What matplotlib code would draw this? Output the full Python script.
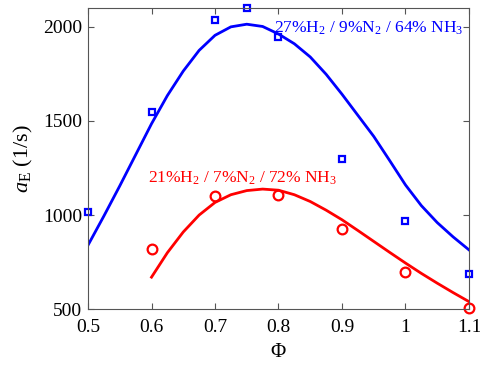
import numpy as np
import matplotlib.pyplot as plt

plt.rcParams['font.family'] = ['Liberation Serif', 'DejaVu Serif']
plt.rcParams['mathtext.fontset'] = 'custom'
plt.rcParams['mathtext.rm'] = 'Liberation Serif'
plt.rcParams['mathtext.it'] = 'Liberation Serif:italic'

# measured stretch rates
phi_hi = [0.5, 0.6, 0.7, 0.75, 0.8, 0.9, 1.0, 1.1]
ae_hi = [1018, 1548, 2035, 2098, 1947, 1298, 968, 686]

phi_lo = [0.6, 0.7, 0.8, 0.9, 1.0, 1.1]
ae_lo = [819, 1101, 1106, 925, 697, 507]

# fitted curves
phi_fit_hi = [0.5, 0.525, 0.55, 0.575, 0.6, 0.625, 0.65, 0.675, 0.7, 0.725,
              0.75, 0.775, 0.8, 0.825, 0.85, 0.875, 0.9, 0.925, 0.95, 0.975,
              1.0, 1.025, 1.05, 1.075, 1.1]
ae_fit_hi = [840, 995, 1155, 1320, 1485, 1635, 1765, 1875, 1955, 2000,
             2014, 2002, 1962, 1910, 1840, 1748, 1642, 1530, 1418, 1290,
             1160, 1050, 960, 884, 815]

phi_fit_lo = [0.6, 0.625, 0.65, 0.675, 0.7, 0.725, 0.75, 0.775, 0.8, 0.825,
              0.85, 0.875, 0.9, 0.925, 0.95, 0.975, 1.0, 1.025, 1.05, 1.075, 1.1]
ae_fit_lo = [670, 800, 910, 1000, 1067, 1108, 1130, 1138, 1132, 1108,
             1072, 1026, 975, 918, 860, 802, 745, 690, 638, 588, 540]

fig = plt.figure(figsize=(4.81, 3.65), dpi=100)
ax = fig.add_axes([0.183, 0.153, 0.792, 0.825])

ax.plot(phi_fit_hi, ae_fit_hi, color='#0000ff', lw=2)
ax.plot(phi_fit_lo, ae_fit_lo, color='#ff0000', lw=2)
ax.plot(phi_hi, ae_hi, 's', ms=5, mfc='none', mec='#0000ff', mew=1.6, clip_on=False)
ax.plot(phi_lo, ae_lo, 'o', ms=7, mfc='none', mec='#ff0000', mew=1.6, clip_on=False)

ax.text(0.793, 1990, '27%H$_2$ / 9%N$_2$ / 64% NH$_3$', color='#0000ff',
        fontsize=12.5, va='center')
ax.text(0.594, 1195, '21%H$_2$ / 7%N$_2$ / 72% NH$_3$', color='#ff0000',
        fontsize=12.5, va='center')

ax.set_xlim(0.5, 1.1)
ax.set_ylim(500, 2100)
ax.set_xticks([0.5, 0.6, 0.7, 0.8, 0.9, 1.0, 1.1])
ax.set_xticklabels(['0.5', '0.6', '0.7', '0.8', '0.9', '1', '1.1'])
ax.set_yticks([500, 1000, 1500, 2000])

ax.set_xlabel(r'$\Phi$', fontsize=15, labelpad=5)
ax.set_ylabel(r'$a_{\mathrm{E}}$ (1/s)', fontsize=16, labelpad=6)

for s in ax.spines.values():
    s.set_color('#555555')
    s.set_linewidth(0.8)
ax.tick_params(direction='in', top=True, right=True, length=4, width=0.8,
               color='#555555', labelsize=14)
ax.tick_params(axis='x', pad=7)
ax.tick_params(axis='y', pad=4)

fig.savefig('out.png', dpi=100)
